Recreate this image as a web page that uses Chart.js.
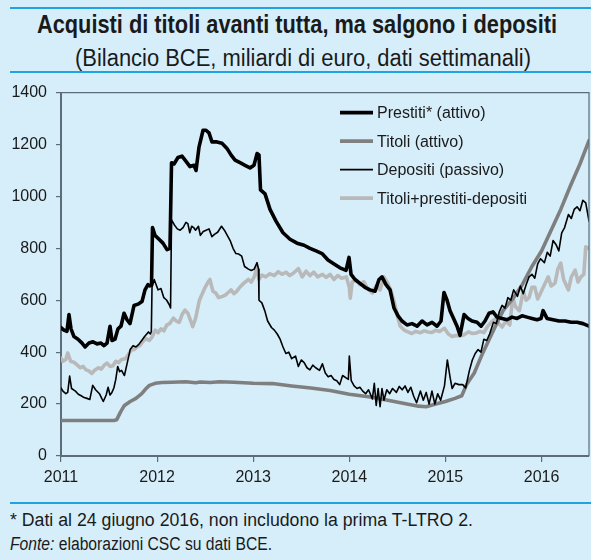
<!DOCTYPE html>
<html lang="it">
<head>
<meta charset="utf-8">
<title>Acquisti di titoli avanti tutta, ma salgono i depositi</title>
<script src="https://cdn.jsdelivr.net/npm/chart.js@4.4.1/dist/chart.umd.min.js"></script>
<style>
    html, body { margin: 0; padding: 0; }
    body {
        width: 591px;
        height: 560px;
        position: relative;
        overflow: hidden;
        background: #d6eefa;
        font-family: "Liberation Sans Narrow", "Liberation Sans", Arial, sans-serif;
        color: #1a1a1a;
    }
    .rule { position: absolute; left: 10px; right: 0; height: 2px; background: #1fa3e2; }
    .fit { position: absolute; white-space: nowrap; display: inline-block; transform-origin: 0 50%; }
    #title { top: 10px; font-size: 25px; font-weight: bold; }
    #subtitle { top: 45px; font-size: 23px; }
    .note { left: 10px; font-size: 18px; }
    #note1 { top: 510px; }
    #note2 { top: 534px; }
    #chart { position: absolute; left: 0; top: 74px; }
</style>
</head>
<body>
<div class="rule" style="top:7px"></div>
<span class="fit" id="title" data-left="37" data-width="520">Acquisti di titoli avanti tutta, ma salgono i depositi</span>
<span class="fit" id="subtitle" data-left="75" data-width="456">(Bilancio BCE, miliardi di euro, dati settimanali)</span>
<div class="rule" style="top:71px"></div>
<canvas id="chart" width="591" height="416"></canvas>
<div class="rule" style="top:502px"></div>
<span class="fit note" id="note1" data-left="10" data-width="463">* Dati al 24 giugno 2016, non includono la prima T-LTRO 2.</span>
<span class="fit note" id="note2" data-left="10" data-width="262"><i>Fonte:</i> elaborazioni CSC su dati BCE.</span>

<script>
// Serie settimanali, miliardi di euro (date in anni decimali)
const prestitiAnni = [2011.000, 2011.031, 2011.062, 2011.083, 2011.104, 2011.135, 2011.177, 2011.219, 2011.250, 2011.291,
    2011.333, 2011.375, 2011.416, 2011.447, 2011.479, 2011.510, 2011.531, 2011.562, 2011.593, 2011.624,
    2011.656, 2011.687, 2011.718, 2011.760, 2011.801, 2011.843, 2011.874, 2011.905, 2011.926, 2011.942,
    2011.952, 2011.978, 2012.020, 2012.061, 2012.103, 2012.134, 2012.150, 2012.176, 2012.217, 2012.259,
    2012.301, 2012.342, 2012.384, 2012.405, 2012.436, 2012.478, 2012.509, 2012.540, 2012.571, 2012.623,
    2012.675, 2012.727, 2012.769, 2012.811, 2012.863, 2012.915, 2012.967, 2013.008, 2013.040, 2013.060,
    2013.076, 2013.123, 2013.175, 2013.237, 2013.310, 2013.383, 2013.456, 2013.529, 2013.591, 2013.654,
    2013.716, 2013.778, 2013.841, 2013.903, 2013.966, 2013.997, 2014.018, 2014.059, 2014.111, 2014.163,
    2014.215, 2014.268, 2014.309, 2014.340, 2014.382, 2014.424, 2014.465, 2014.507, 2014.548, 2014.600,
    2014.652, 2014.705, 2014.757, 2014.809, 2014.861, 2014.913, 2014.954, 2014.985, 2015.017, 2015.048,
    2015.079, 2015.121, 2015.152, 2015.194, 2015.235, 2015.277, 2015.329, 2015.371, 2015.412, 2015.454,
    2015.495, 2015.537, 2015.589, 2015.641, 2015.693, 2015.745, 2015.797, 2015.849, 2015.901, 2015.953,
    2015.995, 2016.016, 2016.057, 2016.120, 2016.182, 2016.245, 2016.307, 2016.370, 2016.432, 2016.494];
const prestitiValori = [495, 485, 480, 545, 490, 460, 450, 435, 420, 435,
    440, 432, 435, 425, 435, 500, 445, 450, 490, 500,
    550, 525, 510, 580, 585, 595, 640, 660, 655, 660,
    880, 850, 835, 820, 795, 800, 1130, 1125, 1150, 1155,
    1135, 1115, 1120, 1100, 1190, 1255, 1255, 1245, 1210, 1210,
    1205, 1185, 1160, 1140, 1130, 1120, 1110, 1120, 1165, 1160,
    1025, 1010, 950, 905, 860, 835, 820, 812, 800, 790,
    780, 755, 740, 725, 715, 765, 700, 680, 665, 650,
    640, 635, 680, 690, 660, 640, 570, 540, 520, 505,
    510, 500, 520, 505, 515, 500, 520, 630, 600, 560,
    535, 500, 465, 545, 530, 520, 515, 500, 520, 550,
    555, 535, 530, 525, 535, 530, 540, 535, 530, 525,
    530, 560, 530, 525, 520, 520, 515, 515, 510, 500];

const titoliAnni = [2011.00, 2011.55, 2011.58, 2011.62, 2011.66, 2011.72, 2011.78, 2011.84, 2011.88, 2011.92,
    2011.98, 2012.05, 2012.15, 2012.30, 2012.40, 2012.45, 2012.55, 2012.65, 2012.80, 2013.00,
    2013.20, 2013.40, 2013.60, 2013.80, 2014.00, 2014.20, 2014.40, 2014.60, 2014.72, 2014.80,
    2014.90, 2015.00, 2015.10, 2015.17, 2015.22, 2015.30, 2015.38, 2015.45, 2015.52, 2015.60,
    2015.70, 2015.80, 2015.90, 2016.00, 2016.10, 2016.20, 2016.30, 2016.40, 2016.494];
const titoliValori = [137, 137, 140, 170, 195, 210, 222, 240, 258, 272,
    280, 283, 284, 286, 282, 285, 283, 286, 284, 280,
    279, 270, 262, 252, 238, 228, 215, 200, 192, 190,
    200, 210, 222, 232, 275, 320, 390, 445, 500, 560,
    605, 660, 730, 790, 870, 950, 1040, 1125, 1215];

const depositiAnni = [2011.00, 2011.02, 2011.05, 2011.07, 2011.09, 2011.11, 2011.15, 2011.18, 2011.21, 2011.24,
    2011.27, 2011.30, 2011.33, 2011.36, 2011.40, 2011.42, 2011.44, 2011.47, 2011.49, 2011.51,
    2011.53, 2011.55, 2011.57, 2011.59, 2011.61, 2011.63, 2011.66, 2011.69, 2011.72, 2011.75,
    2011.78, 2011.81, 2011.84, 2011.87, 2011.91, 2011.93, 2011.94, 2011.947, 2011.97, 2011.99,
    2012.01, 2012.04, 2012.07, 2012.10, 2012.13, 2012.14, 2012.15, 2012.18, 2012.21, 2012.24,
    2012.27, 2012.30, 2012.32, 2012.34, 2012.36, 2012.38, 2012.40, 2012.43, 2012.45, 2012.48,
    2012.51, 2012.54, 2012.57, 2012.60, 2012.63, 2012.67, 2012.70, 2012.73, 2012.76, 2012.79,
    2012.82, 2012.85, 2012.88, 2012.91, 2012.95, 2012.98, 2013.01, 2013.04, 2013.055, 2013.06,
    2013.09, 2013.12, 2013.15, 2013.19, 2013.22, 2013.25, 2013.28, 2013.31, 2013.34, 2013.37,
    2013.40, 2013.44, 2013.47, 2013.50, 2013.53, 2013.56, 2013.59, 2013.62, 2013.65, 2013.69,
    2013.72, 2013.75, 2013.78, 2013.81, 2013.84, 2013.87, 2013.90, 2013.93, 2013.97, 2013.99,
    2014.00, 2014.02, 2014.05, 2014.08, 2014.11, 2014.14, 2014.17, 2014.20, 2014.24, 2014.26,
    2014.28, 2014.30, 2014.32, 2014.34, 2014.36, 2014.39, 2014.42, 2014.45, 2014.49, 2014.52,
    2014.55, 2014.58, 2014.61, 2014.64, 2014.67, 2014.70, 2014.74, 2014.77, 2014.80, 2014.83,
    2014.86, 2014.89, 2014.92, 2014.95, 2014.99, 2015.02, 2015.05, 2015.07, 2015.10, 2015.14,
    2015.18, 2015.21, 2015.25, 2015.28, 2015.31, 2015.34, 2015.37, 2015.40, 2015.43, 2015.46,
    2015.50, 2015.53, 2015.56, 2015.59, 2015.62, 2015.65, 2015.68, 2015.71, 2015.75, 2015.78,
    2015.81, 2015.84, 2015.87, 2015.90, 2015.93, 2015.96, 2015.99, 2016.03, 2016.06, 2016.09,
    2016.12, 2016.15, 2016.18, 2016.21, 2016.24, 2016.28, 2016.31, 2016.34, 2016.37, 2016.40,
    2016.43, 2016.46, 2016.494];
const depositiValori = [262, 250, 240, 245, 308, 260, 250, 238, 232, 225,
    222, 218, 272, 255, 240, 225, 210, 235, 265, 235,
    245, 262, 295, 345, 325, 330, 310, 360, 410, 425,
    420, 430, 445, 460, 478, 470, 480, 650, 680, 660,
    640, 645, 610, 600, 580, 570, 910, 890, 875, 870,
    880, 900, 895, 860, 885, 880, 870, 885, 850, 865,
    870, 875, 845, 855, 862, 885, 870, 850, 830, 800,
    780, 778, 770, 730, 720, 715, 720, 745, 720, 600,
    590, 560, 520, 495, 485, 470, 450, 420, 395, 400,
    375, 385, 345, 370, 360, 340, 332, 350, 340, 330,
    355, 320, 305, 310, 295, 290, 275, 310, 300, 295,
    385, 290, 270, 260, 265, 250, 240, 255, 220, 280,
    195, 260, 190, 260, 215, 255, 240, 260, 245, 268,
    255, 270, 245, 265, 230, 205, 250, 215, 245, 200,
    250, 200, 240, 215, 270, 370, 300, 260, 280, 275,
    275, 262, 330, 370, 395, 410, 400, 450, 445, 470,
    515, 510, 555, 580, 570, 610, 600, 640, 615, 655,
    625, 660, 690, 700, 685, 740, 760, 745, 785, 770,
    830, 815, 790, 860, 880, 930, 915, 950, 960, 945,
    985, 975, 905];

const nettoAnni = [2011.00, 2011.02, 2011.05, 2011.07, 2011.10, 2011.14, 2011.17, 2011.20, 2011.23, 2011.26,
    2011.29, 2011.32, 2011.35, 2011.39, 2011.42, 2011.45, 2011.48, 2011.51, 2011.54, 2011.57,
    2011.60, 2011.63, 2011.67, 2011.70, 2011.73, 2011.76, 2011.79, 2011.82, 2011.85, 2011.88,
    2011.92, 2011.95, 2011.98, 2012.01, 2012.04, 2012.07, 2012.10, 2012.13, 2012.17, 2012.20,
    2012.23, 2012.26, 2012.29, 2012.32, 2012.35, 2012.37, 2012.40, 2012.44, 2012.47, 2012.50,
    2012.53, 2012.55, 2012.58, 2012.61, 2012.64, 2012.68, 2012.71, 2012.74, 2012.77, 2012.80,
    2012.83, 2012.86, 2012.90, 2012.95, 2012.98, 2013.01, 2013.04, 2013.06, 2013.09, 2013.13,
    2013.17, 2013.22, 2013.26, 2013.30, 2013.34, 2013.38, 2013.42, 2013.47, 2013.51, 2013.55,
    2013.59, 2013.63, 2013.67, 2013.72, 2013.76, 2013.80, 2013.84, 2013.88, 2013.92, 2013.97,
    2014.00, 2014.01, 2014.03, 2014.07, 2014.11, 2014.15, 2014.19, 2014.24, 2014.28, 2014.32,
    2014.36, 2014.40, 2014.43, 2014.47, 2014.50, 2014.53, 2014.57, 2014.61, 2014.65, 2014.69,
    2014.74, 2014.78, 2014.82, 2014.86, 2014.90, 2014.94, 2014.99, 2015.03, 2015.07, 2015.11,
    2015.15, 2015.19, 2015.24, 2015.28, 2015.32, 2015.36, 2015.40, 2015.44, 2015.49, 2015.52,
    2015.55, 2015.59, 2015.63, 2015.67, 2015.70, 2015.73, 2015.77, 2015.81, 2015.84, 2015.87,
    2015.90, 2015.93, 2015.96, 2015.99, 2016.03, 2016.07, 2016.10, 2016.14, 2016.17, 2016.20,
    2016.23, 2016.28, 2016.31, 2016.35, 2016.38, 2016.41, 2016.44, 2016.46, 2016.494];
const nettoValori = [377, 365, 372, 397, 365, 360, 350, 340, 345, 332,
    328, 318, 330, 340, 335, 350, 358, 345, 348, 365,
    360, 372, 375, 390, 408, 410, 420, 425, 440, 452,
    445, 460, 485, 475, 490, 482, 504, 510, 531, 520,
    515, 545, 562, 550, 520, 498, 530, 600, 625, 650,
    670, 680, 635, 628, 610, 615, 620, 630, 640, 625,
    635, 650, 665, 680, 670, 690, 728, 680, 697, 690,
    702, 695, 710, 700, 708, 695, 705, 722, 690, 712,
    695, 708, 690, 700, 688, 700, 680, 695, 685, 690,
    650, 608, 670, 678, 660, 672, 645, 628, 655, 640,
    690, 666, 640, 590, 540, 500, 485, 478, 472, 480,
    475, 482, 478, 476, 484, 480, 492, 470, 460, 464,
    462, 466, 478, 472, 474, 480, 476, 500, 520, 528,
    512, 497, 520, 505, 610, 575, 560, 635, 600, 610,
    650, 650, 605, 628, 660, 690, 655, 666, 720, 743,
    680, 640, 690, 716, 670, 690, 700, 806, 800];

const yearTicks = [2011, 2012, 2013, 2014, 2015, 2016];
const legendLabels = ["Prestiti* (attivo)", "Titoli (attivo)", "Depositi (passivo)", "Titoli+prestiti-depositi"];

const axisColor = "#5d6c76";
const tickFont = { family: "'Liberation Sans', Arial, sans-serif", size: 16 };

function toPoints(anni, valori) {
    return anni.map((a, i) => ({ x: a, y: valori[i] }));
}

// Stretch or squeeze each text line to its box width
document.querySelectorAll(".fit").forEach(el => {
    const w = el.getBoundingClientRect().width;
    el.style.left = el.dataset.left + "px";
    el.style.transform = "scaleX(" + (Number(el.dataset.width) / w) + ")";
});

// Frame on top and right of the plot
const framePlugin = {
    id: "frame",
    afterDraw(chart) {
        const { ctx, chartArea } = chart;
        ctx.save();
        ctx.strokeStyle = axisColor;
        ctx.lineWidth = 1.2;
        ctx.beginPath();
        ctx.moveTo(chartArea.left, chartArea.top);
        ctx.lineTo(chartArea.right, chartArea.top);
        ctx.lineTo(chartArea.right, chartArea.bottom);
        ctx.stroke();
        ctx.restore();
    }
};

// Legend drawn inside the plot, top right
const insideLegend = {
    id: "insideLegend",
    afterDraw(chart) {
        const { ctx, chartArea } = chart;
        const x0 = chartArea.left + 279;
        const y0 = chartArea.top + 20;
        ctx.save();
        ctx.font = "16px 'Liberation Sans', Arial, sans-serif";
        ctx.textBaseline = "middle";
        chart.data.datasets.forEach((ds, i) => {
            const y = y0 + i * 28.5;
            ctx.strokeStyle = ds.borderColor;
            ctx.lineWidth = ds.borderWidth;
            ctx.beginPath();
            ctx.moveTo(x0, y);
            ctx.lineTo(x0 + 33, y);
            ctx.stroke();
            ctx.fillStyle = "#1a1a1a";
            ctx.fillText(ds.label, x0 + 37, y + 1);
        });
        ctx.restore();
    }
};

const ctx = document.getElementById("chart").getContext("2d");
new Chart(ctx, {
    type: "line",
    data: {
        datasets: [
            { label: legendLabels[0], data: toPoints(prestitiAnni, prestitiValori), borderColor: "#000000", borderWidth: 3.6, order: 1 },
            { label: legendLabels[1], data: toPoints(titoliAnni, titoliValori), borderColor: "#7f7f7f", borderWidth: 3.6, order: 3 },
            { label: legendLabels[2], data: toPoints(depositiAnni, depositiValori), borderColor: "#000000", borderWidth: 1.6, order: 2 },
            { label: legendLabels[3], data: toPoints(nettoAnni, nettoValori), borderColor: "#b9b9b9", borderWidth: 3.6, order: 4 }
        ]
    },
    options: {
        responsive: false,
        animation: false,
        devicePixelRatio: 1,
        layout: { padding: { top: 7, right: 2, left: 0, bottom: 0 } },
        elements: {
            point: { radius: 0 },
            line: { tension: 0, borderJoinStyle: "round", borderCapStyle: "round", fill: false }
        },
        plugins: {
            legend: { display: false },
            tooltip: { enabled: false }
        },
        scales: {
            x: {
                type: "linear",
                min: 2011,
                max: 2016.494,
                afterBuildTicks: scale => { scale.ticks = yearTicks.map(v => ({ value: v })); },
                afterFit: scale => { scale.height = 34; },
                ticks: { font: tickFont, color: "#1a1a1a", padding: 6, maxRotation: 0, callback: v => String(v) },
                grid: { drawOnChartArea: false, drawTicks: true, tickLength: 6, color: axisColor, lineWidth: 1.2 },
                border: { color: axisColor, width: 2 }
            },
            y: {
                min: 0,
                max: 1400,
                afterFit: scale => { scale.width = 61; },
                ticks: { stepSize: 200, font: tickFont, color: "#1a1a1a", padding: 9, callback: v => String(v) },
                grid: { drawOnChartArea: false, drawTicks: true, tickLength: 5, color: axisColor, lineWidth: 1.2 },
                border: { color: axisColor, width: 2 }
            }
        }
    },
    plugins: [framePlugin, insideLegend]
});
</script>
</body>
</html>
